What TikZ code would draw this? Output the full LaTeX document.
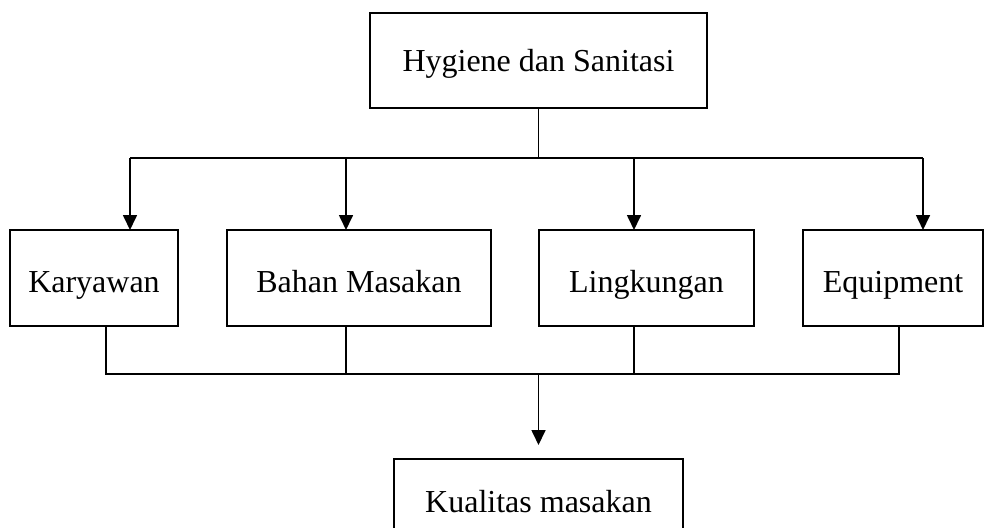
\documentclass[tikz,border=0pt]{standalone}
\usepackage{fontspec}
\setmainfont{Liberation Serif}
\usetikzlibrary{arrows.meta}
\tikzset{
  box/.style={draw, line width=1.7pt, inner sep=0pt, outer sep=0pt, text depth=0pt, font=\fontsize{32}{38}\selectfont},
  link/.style={line width=1.7pt},
  arr/.style={line width=1.7pt, -{Triangle[width=14pt,length=15pt]}}
}
\begin{document}
\begin{tikzpicture}[x=1pt,y=-1pt]
\useasboundingbox (0,0) rectangle (984,527);
\clip (0,0) rectangle (984,527);
\node[box, text height=21pt, minimum width=337pt, minimum height=95pt] (top) at (538.5,60.5) {Hygiene dan Sanitasi};
\node[box, text height=28pt, minimum width=168pt, minimum height=96pt] (kar) at (94,278) {Karyawan};
\node[box, text height=28pt, minimum width=264pt, minimum height=96pt] (bah) at (359,278) {Bahan Masakan};
\node[box, text height=28pt, minimum width=215pt, minimum height=96pt] (lin) at (646.5,278) {Lingkungan};
\node[box, text height=28pt, minimum width=180pt, minimum height=96pt] (equ) at (893,278) {Equipment};
\node[box, text height=21pt, minimum width=289pt, minimum height=85pt] (kua) at (538.5,501.5) {Kualitas masakan};
% top bus
\coordinate (a1) at (130,158);
\coordinate (a2) at (346,158);
\coordinate (a3) at (634,158);
\coordinate (a4) at (923,158);
\draw[link] (top.south) -- (top.south |- a1);
\draw[link] (a1) -- (a4);
\draw[arr] (a1) -- (a1 |- kar.north);
\draw[arr] (a2) -- (a2 |- bah.north);
\draw[arr] (a3) -- (a3 |- lin.north);
\draw[arr] (a4) -- (a4 |- equ.north);
% bottom bus
\coordinate (b1) at (106,374);
\coordinate (b2) at (346,374);
\coordinate (b3) at (634,374);
\coordinate (b4) at (899,374);
\draw[link] (b1 |- kar.south) -- (b1) -- (b4) -- (b4 |- equ.south);
\draw[link] (b2 |- bah.south) -- (b2);
\draw[link] (b3 |- lin.south) -- (b3);
\draw[arr, shorten >=14pt] (kua.north |- b1) -- (kua.north);
\end{tikzpicture}
\end{document}
